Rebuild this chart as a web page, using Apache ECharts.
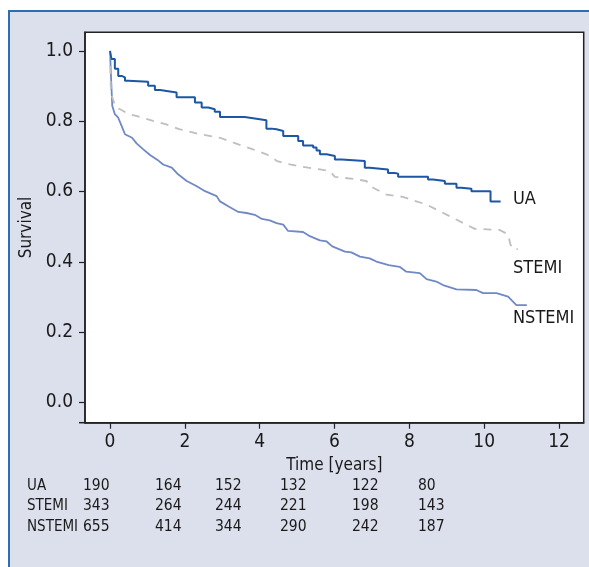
<!DOCTYPE html>
<html>
<head>
<meta charset="utf-8">
<script src="https://cdn.jsdelivr.net/npm/echarts@6/dist/echarts.min.js"></script>
<style>
  html, body { margin: 0; padding: 0; background: #ffffff; }
  #panel { position: absolute; left: 8px; top: 10px; width: 581px; height: 557px;
           background: #dcdfec; border-top: 2px solid #2f6db3; border-left: 2px solid #2f6db3; box-sizing: border-box; }
  #chart { position: absolute; left: 0; top: 0; width: 589px; height: 567px; }
</style>
</head>
<body>
<div id="panel"></div>
<div id="chart"></div>
<script>
// ---- data ----
const xTicks = [0, 2, 4, 6, 8, 10, 12];
const yTicks = [0.0, 0.2, 0.4, 0.6, 0.8, 1.0];
const seriesNames = ['UA', 'STEMI', 'NSTEMI'];

const uaCurve = [
  [0, 1.0], [0.04, 0.977], [0.13, 0.949], [0.22, 0.929], [0.31, 0.925], [0.40, 0.915],
  [0.49, 0.912], [1.02, 0.901], [1.20, 0.889], [1.34, 0.887], [1.47, 0.882], [1.78, 0.868],
  [2.27, 0.853], [2.45, 0.839], [2.63, 0.834], [2.80, 0.827], [2.94, 0.812], [3.60, 0.808],
  [3.87, 0.803], [4.18, 0.779], [4.32, 0.777], [4.45, 0.772], [4.63, 0.758], [5.03, 0.744],
  [5.16, 0.731], [5.43, 0.725], [5.52, 0.717], [5.61, 0.706], [5.79, 0.701], [6.01, 0.691],
  [6.19, 0.687], [6.81, 0.668], [6.94, 0.663], [7.43, 0.653], [7.61, 0.651], [7.70, 0.642],
  [8.50, 0.634], [8.63, 0.630], [8.95, 0.622], [9.26, 0.611], [9.39, 0.608], [9.66, 0.601],
  [10.17, 0.572], [10.44, 0.572]
];

const stemiCurve = [
  [0, 1.0], [0.02, 0.90], [0.05, 0.872], [0.15, 0.840], [0.27, 0.834], [0.50, 0.820],
  [0.70, 0.815], [1.15, 0.801], [1.50, 0.791], [1.87, 0.777], [2.40, 0.763], [2.94, 0.753],
  [3.30, 0.739], [3.82, 0.720], [4.18, 0.706], [4.36, 0.696], [4.45, 0.687], [4.81, 0.677],
  [5.16, 0.670], [5.61, 0.663], [5.87, 0.658], [6.01, 0.642], [6.50, 0.636], [6.85, 0.630],
  [7.03, 0.611], [7.39, 0.591], [7.83, 0.585], [8.19, 0.572], [8.46, 0.563], [8.81, 0.544],
  [9.17, 0.525], [9.52, 0.506], [9.75, 0.494], [10.41, 0.491], [10.64, 0.478], [10.70, 0.450],
  [10.77, 0.436], [10.90, 0.436]
];

const nstemiCurve = [
  [0, 1.0], [0.03, 0.92], [0.06, 0.844], [0.13, 0.820], [0.22, 0.810], [0.31, 0.787],
  [0.40, 0.763], [0.59, 0.753], [0.71, 0.737], [0.89, 0.720], [1.07, 0.704], [1.27, 0.690],
  [1.42, 0.677], [1.65, 0.668], [1.82, 0.649], [2.05, 0.630], [2.32, 0.615], [2.54, 0.601],
  [2.85, 0.587], [2.94, 0.572], [3.16, 0.558], [3.43, 0.542], [3.65, 0.539], [3.87, 0.534],
  [4.06, 0.522], [4.27, 0.518], [4.45, 0.510], [4.63, 0.506], [4.76, 0.488], [5.16, 0.485],
  [5.34, 0.473], [5.61, 0.461], [5.79, 0.458], [5.94, 0.444], [6.28, 0.429], [6.45, 0.427],
  [6.68, 0.415], [6.94, 0.410], [7.12, 0.401], [7.45, 0.391], [7.74, 0.386], [7.92, 0.372],
  [8.28, 0.368], [8.46, 0.351], [8.72, 0.344], [8.90, 0.334], [9.26, 0.322], [9.79, 0.320],
  [9.97, 0.311], [10.33, 0.311], [10.64, 0.301], [10.86, 0.277], [11.14, 0.277]
];

const riskLabels = ['UA', 'STEMI', 'NSTEMI'];
const riskUA = [190, 164, 152, 132, 122, 80];
const riskSTEMI = [343, 264, 244, 221, 198, 143];
const riskNSTEMI = [655, 414, 344, 290, 242, 187];

// ---- layout / style ----
const FONT = '"DejaVu Sans Condensed", "Liberation Sans Narrow", "Roboto", sans-serif';
const TXT = '#1a1a1a';
const riskColX = [83, 155, 215, 280, 352, 418];
const riskRowY = [486, 506, 527];
const riskLabelX = 27;

const chart = echarts.init(document.getElementById('chart'), null, { renderer: 'canvas' });

const graphics = [];
// little extension of x-axis line to the left
graphics.push({ type: 'line', shape: { x1: 79, y1: 422.7, x2: 86, y2: 422.7 },
  style: { stroke: '#222', lineWidth: 1.5 }, z: 10 });
// curve labels
const endLabelPos = [[513, 199], [513, 268], [513, 318]];
seriesNames.forEach((n, i) => {
  graphics.push({ type: 'text', x: endLabelPos[i][0], y: endLabelPos[i][1],
    style: { text: n, font: '18px ' + FONT, fill: TXT, textAlign: 'left', textVerticalAlign: 'middle' } });
});
// number at risk table
const riskRows = [riskUA, riskSTEMI, riskNSTEMI];
riskLabels.forEach((lab, r) => {
  graphics.push({ type: 'text', x: riskLabelX, y: riskRowY[r],
    style: { text: lab, font: '15px ' + FONT, fill: TXT, textAlign: 'left', textVerticalAlign: 'middle' } });
  riskRows[r].forEach((v, c) => {
    graphics.push({ type: 'text', x: riskColX[c], y: riskRowY[r],
      style: { text: String(v), font: '15.5px ' + FONT, fill: TXT, textAlign: 'left', textVerticalAlign: 'middle' } });
  });
});

const option = {
  animation: false,
  backgroundColor: 'transparent',
  textStyle: { fontFamily: FONT },
  grid: {
    left: 85, top: 32.3, right: 5.3, bottom: 144.3,
    show: true, backgroundColor: '#ffffff', borderColor: '#222', borderWidth: 1.5
  },
  xAxis: {
    type: 'value', min: -0.668, max: 12.66,
    name: 'Time [years]', nameLocation: 'middle', nameGap: 33,
    nameTextStyle: { fontSize: 17, color: TXT, fontFamily: FONT },
    splitLine: { show: false },
    axisLine: { show: true, onZero: false, lineStyle: { color: '#222', width: 1.5 } },
    axisTick: { show: true, customValues: xTicks, length: 6, lineStyle: { color: '#222', width: 1.2 } },
    axisLabel: { customValues: xTicks, fontSize: 19, color: TXT, fontFamily: FONT, margin: 10 }
  },
  yAxis: {
    type: 'value', min: -0.0575, max: 1.053,
    name: 'Survival', nameLocation: 'middle', nameGap: 50, nameRotate: 90,
    nameTextStyle: { fontSize: 17, color: TXT, fontFamily: FONT },
    splitLine: { show: false },
    axisLine: { show: true, onZero: false, lineStyle: { color: '#222', width: 1.5 } },
    axisTick: { show: true, customValues: yTicks, length: 6, lineStyle: { color: '#222', width: 1.2 } },
    axisLabel: { customValues: yTicks, fontSize: 19, color: TXT, fontFamily: FONT, margin: 12,
      formatter: v => v.toFixed(1) }
  },
  series: [
    { name: seriesNames[2], type: 'line', data: nstemiCurve, showSymbol: false, z: 2,
      lineStyle: { color: '#6f88c6', width: 1.8 } },
    { name: seriesNames[1], type: 'line', data: stemiCurve, showSymbol: false, z: 3,
      lineStyle: { color: '#bfbfbf', width: 1.8, type: [8, 7] } },
    { name: seriesNames[0], type: 'line', step: 'end', data: uaCurve, showSymbol: false, z: 4,
      lineStyle: { color: '#1b57a3', width: 2 } }
  ],
  graphic: graphics
};
chart.setOption(option);
</script>
</body>
</html>
